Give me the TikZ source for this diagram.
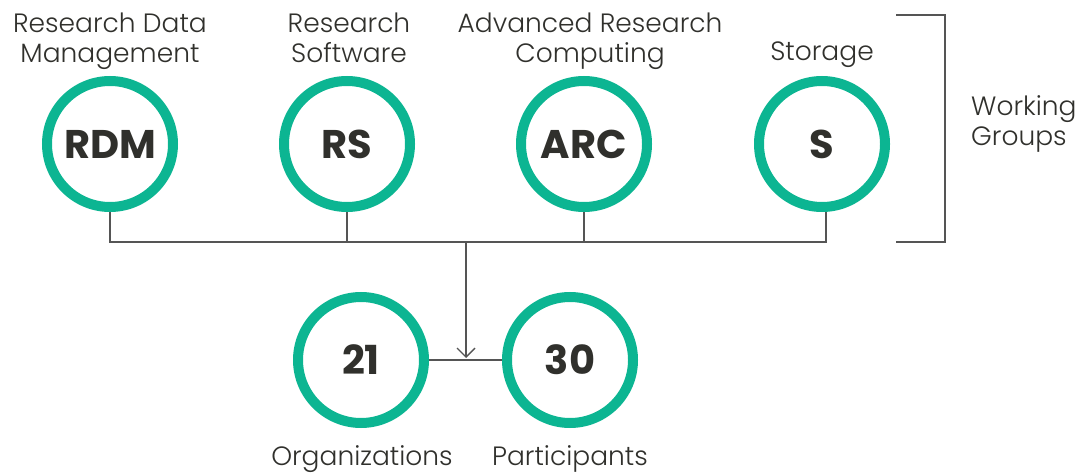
\documentclass[tikz,border=0pt]{standalone}
\usepackage{fontspec}
\setmainfont{Poppins}
\newfontfamily\lightfont{Poppins Light}
\usetikzlibrary{arrows.meta}
\definecolor{ringgreen}{RGB}{12,181,146}
\definecolor{inkdark}{RGB}{48,48,44}
\definecolor{linegray}{RGB}{85,85,85}
\begin{document}
\begin{tikzpicture}[x=1pt,y=-1pt,
  ring/.style={circle,draw=ringgreen,line width=10pt,minimum size=126pt,inner sep=0pt,
    font=\fontsize{40}{44}\selectfont\bfseries,text=inkdark},
  lbl/.style={align=center,font=\lightfont\fontsize{26.5}{29.5}\selectfont,text=inkdark,inner sep=0pt},
  conn/.style={draw=linegray,line width=1.4pt}]
\useasboundingbox (0,0) rectangle (1089,473);
\node[ring] (rdm) at (110,144) {RDM};
\node[ring] (rs)  at (347,144) {RS};
\node[ring] (arc) at (584,144) {ARC};
\node[ring] (s)   at (822,144) {S};
\node[ring] (org) at (361,360) {21};
\node[ring] (par) at (570,360) {30};
\node[lbl] (lrdm) at (110,41) {Research Data\\Management};
\node[lbl] (lrs)  at (349,38) {Research\\Software};
\node[lbl] (larc) at (590,41) {Advanced Research\\Computing};
\node[lbl] (ls)   at (822,55) {Storage};
\node[lbl] (lorg) at (362,459) {Organizations};
\node[lbl] (lpar) at (570,459) {Participants};
\node[lbl,align=left,anchor=west] (lwg) at (971,124) {Working\\Groups};
\coordinate (hl) at (110,242);
\coordinate (hr) at (826,242);
\coordinate (hm) at (466,242);
\coordinate (am) at (466,358);
\draw[conn] (rdm.south) -- (hl) -- (hr) -- (s.south -| hr);
\draw[conn] (rs.south) -- (rs.south |- hl);
\draw[conn] (arc.south) -- (arc.south |- hl);
\draw[conn,-{Straight Barb[length=9pt,width=18pt]}] (hm) -- (am);
\draw[conn] (org.east) -- (par.west);
\coordinate (b1) at (896,15);
\coordinate (b2) at (945,15);
\coordinate (b3) at (945,242);
\coordinate (b4) at (896,242);
\draw[conn] (b1) -- (b2) -- (b3) -- (b4);
\end{tikzpicture}
\end{document}
